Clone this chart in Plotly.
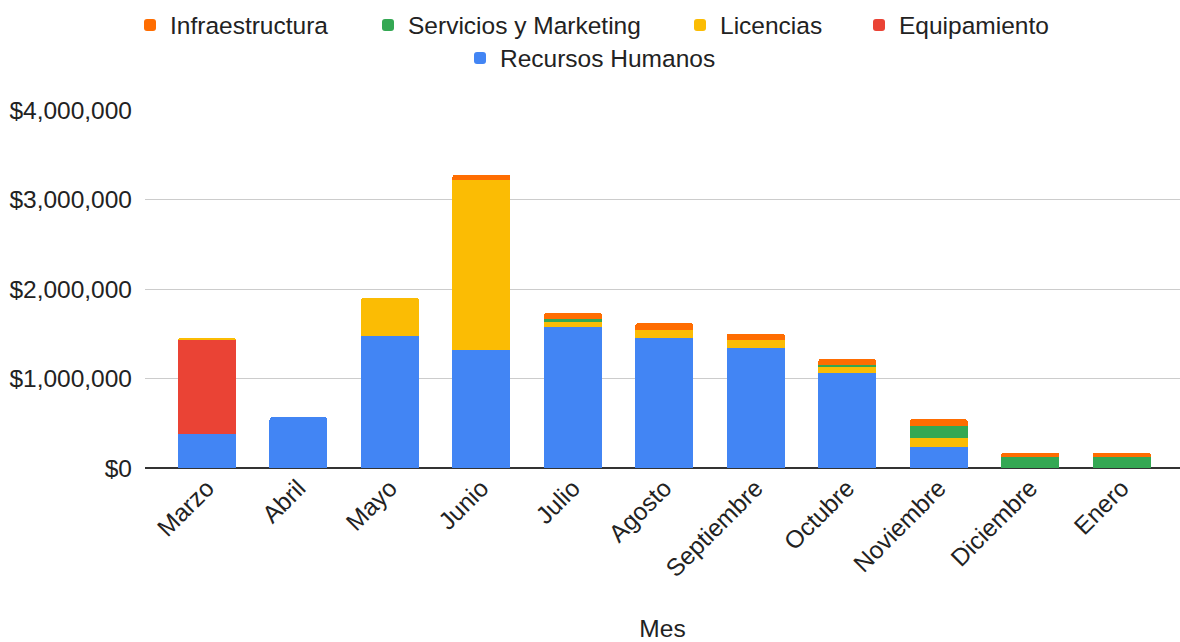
import plotly.graph_objects as go

# Monthly spend by category (USD)
meses = ["Marzo", "Abril", "Mayo", "Junio", "Julio", "Agosto",
         "Septiembre", "Octubre", "Noviembre", "Diciembre", "Enero"]
recursos_humanos = [380000, 567000, 1480000, 1317000, 1574000, 1458000,
                    1339000, 1059000, 235000, 0, 0]
equipamiento = [1060000, 0, 0, 0, 0, 0, 0, 0, 0, 0, 0]
licencias = [15000, 0, 420000, 1897000, 67000, 89000, 93000, 71000, 97000, 0, 0]
servicios_marketing = [0, 0, 0, 0, 22000, 0, 0, 22000, 141000, 123000, 123000]
infraestructura = [0, 0, 0, 63000, 71000, 71000, 70000, 67000, 72000, 48000, 48000]

y_ticks = [0, 1000000, 2000000, 3000000, 4000000]
y_tick_text = ["$0", "$1,000,000", "$2,000,000", "$3,000,000", "$4,000,000"]

FONT = "Arial, Liberation Sans, sans-serif"
TXT = "#222222"
FS = 24.5

# bottom-to-top stacking order; each series gets its own legend box
# (left edge in pixels, row) so the two legend rows can be laid out freely
series = [
    ("Recursos Humanos", recursos_humanos, "#4285F4", "legend5", 460, 2),
    ("Equipamiento", equipamiento, "#EA4335", "legend4", 859, 1),
    ("Licencias", licencias, "#FBBC04", "legend3", 680, 1),
    ("Servicios y Marketing", servicios_marketing, "#34A853", "legend2", 368, 1),
    ("Infraestructura", infraestructura, "#FF6D01", "legend", 130, 1),
]

W, H = 1180, 642
ML, MR, MT, MB = 145, 0, 110, 174
row_y = {1: 1 - 25 / H, 2: 1 - 58 / H}

fig = go.Figure()
legends = {}
for name, vals, color, leg, left_px, row in series:
    fig.add_trace(go.Bar(
        x=meses, y=vals, name=name, legend=leg, showlegend=True,
        marker=dict(color=color, line=dict(width=0)),
    ))
    legends[leg] = dict(
        orientation="h",
        xref="container", yref="container",
        x=left_px / W, xanchor="left",
        y=row_y[row], yanchor="middle",
        font=dict(family=FONT, size=FS, color=TXT),
        bgcolor="rgba(0,0,0,0)",
    )

n = len(meses)
fig.update_layout(
    width=W, height=H,
    showlegend=True,
    margin=dict(l=ML, r=MR, t=MT, b=MB, autoexpand=False),
    paper_bgcolor="white", plot_bgcolor="white",
    barmode="stack", bargap=0.366, barcornerradius=3,
    font=dict(family=FONT, size=FS, color=TXT),
    xaxis=dict(
        range=[-0.678, n - 1 + 0.637],
        tickangle=-45,
        tickfont=dict(family=FONT, size=FS, color=TXT),
        showgrid=False, showline=False, zeroline=False,
        title=dict(text="Mes", font=dict(family=FONT, size=FS, color=TXT), standoff=40),
        automargin=False,
    ),
    yaxis=dict(
        range=[0, 4000000],
        tickvals=y_ticks, ticktext=y_tick_text,
        tickfont=dict(family=FONT, size=FS, color=TXT),
        showgrid=True, gridcolor="#cccccc", gridwidth=1,
        zeroline=True, zerolinecolor="#333333", zerolinewidth=2,
        ticklabelstandoff=12,
        automargin=False,
    ),
    **legends,
)

fig.write_html("out.html")
